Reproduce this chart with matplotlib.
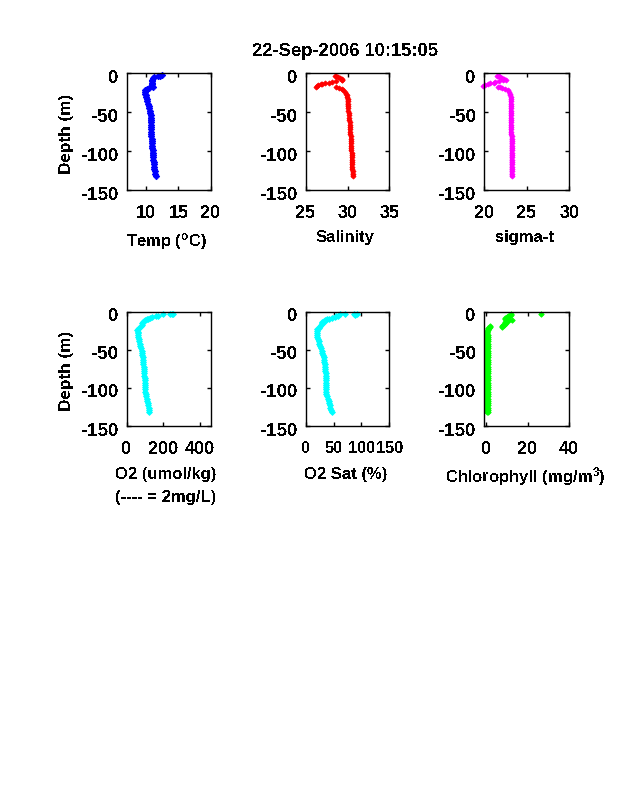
import matplotlib
matplotlib.use("Agg")
import matplotlib.pyplot as plt
from matplotlib.transforms import ScaledTranslation

plt.rcParams.update({
    'font.family': ['Liberation Sans', 'DejaVu Sans'],
    'font.weight': 'bold',
    'axes.labelweight': 'bold',
    'mathtext.fontset': 'custom',
    'mathtext.bf': 'Liberation Sans:bold',
    'mathtext.rm': 'Liberation Sans:bold',
    'mathtext.default': 'bf',
    'text.antialiased': False,
})

title = '22-Sep-2006 10:15:05'

deep_depth = [-30, -33, -36, -39, -42,
              -45, -48, -51, -54, -57,
              -60, -63, -66, -69, -72,
              -75, -78, -81, -84, -87,
              -90, -93, -96, -99, -102,
              -105, -108, -111, -114, -117,
              -120, -123, -126, -129, -132]

temp_depth = [-2, -3, -4, -5, -6, -8, -10, -12, -14, -16, -18, -19, -20, -21, -22, -24, -26, -28] + deep_depth
temp = [12.5, 12.2, 11.8, 11.3, 11.1, 10.9, 10.9, 10.9, 10.9, 10.9, 11.0, 10.5, 10.1, 10.0, 9.9, 9.9, 9.9, 10.0,
        10.0, 10.1, 10.2, 10.3, 10.4,
        10.5, 10.6, 10.6, 10.7, 10.7,
        10.7, 10.7, 10.8, 10.8, 10.8,
        10.8, 10.8, 10.8, 10.9, 10.9,
        10.9, 10.9, 10.9, 11.0, 11.0,
        11.0, 11.1, 11.1, 11.2, 11.2,
        11.3, 11.3, 11.4, 11.4, 11.5]

sal_depth = [-3, -4, -5, -6, -7, -8, -9, -10, -11, -12, -13, -13.5, -14, -15, -16, -17, -18, -19, -20, -22, -24, -26, -28] + deep_depth
sal = [28.5, 28.6, 28.9, 29.1, 29.3, 29.4, 29.3, 28.6, 28.2, 27.8, 27.3, 27.0, 26.8, 26.5, 26.3, 26.2, 28.6, 29.0, 29.3, 29.5, 29.7, 29.8, 29.9,
       29.9, 30.0, 30.0, 30.0, 30.0,
       30.1, 30.1, 30.2, 30.2, 30.2,
       30.2, 30.3, 30.3, 30.3, 30.3,
       30.3, 30.3, 30.4, 30.4, 30.4,
       30.4, 30.4, 30.4, 30.4, 30.5,
       30.5, 30.5, 30.5, 30.5, 30.5,
       30.5, 30.5, 30.6, 30.6, 30.6]

sigma_depth = [-3, -4, -5, -6, -7, -8, -9, -10, -11, -12, -13, -14, -15, -16, -17, -18, -19, -20, -22, -24, -26, -28] + deep_depth
sigma = [21.5, 21.7, 21.9, 22.1, 22.3, 22.5, 22.2, 21.7, 21.3, 21.1, 20.7, 20.4, 20.1, 19.9, 21.6, 21.8, 22.1, 22.4, 22.8, 22.9, 23.0, 23.0,
         23.1, 23.1, 23.1, 23.1, 23.1,
         23.1, 23.1, 23.1, 23.1, 23.1,
         23.1, 23.1, 23.1, 23.1, 23.1,
         23.1, 23.1, 23.2, 23.2, 23.2,
         23.2, 23.2, 23.2, 23.2, 23.2,
         23.2, 23.2, 23.2, 23.2, 23.2,
         23.2, 23.2, 23.2, 23.2, 23.2]

o2_depth = [-2.5, -3, -3.5, -3.5, -5, -6, -7, -8, -9, -10, -11, -12, -13, -14, -15, -17, -19, -21, -23, -24, -26, -28] + deep_depth
o2 = [248, 238, 252, 200, 172, 158, 140, 127, 118, 108, 100, 95, 90, 88, 85, 82, 76, 68, 62, 58, 60, 60,
      62, 63, 65, 67, 70,
      73, 77, 81, 85, 86,
      87, 88, 90, 91, 92,
      94, 95, 96, 97, 98,
      98, 99, 100, 100, 100,
      101, 103, 105, 108, 112,
      115, 117, 119, 122, 124]

sat_depth = [-3, -3.5, -4, -3, -3.5, -5, -6, -7, -8, -9, -10, -11, -12, -13, -14, -15, -17, -19, -21, -23, -25, -28] + deep_depth
sat = [92, 86, 88, 71, 62, 58, 54, 52, 48, 42, 38, 35, 33, 32, 30, 29, 28, 26, 23, 21, 20, 20,
       21, 21, 22, 23, 24,
       26, 27, 29, 30, 31,
       32, 33, 33, 34, 34,
       35, 35, 36, 36, 36,
       36, 36, 36, 36, 36,
       36, 37, 38, 40, 41,
       42, 43, 44, 45, 47]

chl_depth = [-3.5, -3, -4, -5, -6, -7, -8, -9, -10, -11, -11.5, -12, -13, -14, -15, -16, -17, -18, -19, -20, -20, -19, -21, -22, -23, -24, -25, -26, -27, -28] + deep_depth + deep_depth
chl = [26.2, 12.0, 11.8, 11.2, 10.7, 10.0, 9.2, 9.0, 9.6, 11.0, 12.3, 10.0, 9.4, 9.2, 9.4, 9.2, 8.8, 8.0, 7.8, 7.5, 1.9, 2.0, 1.3, 1.0, 0.9, 0.8, 0.6, 0.6, 0.6, 0.6,
       0.3, 0.3, 0.3, 0.3, 0.3,
       0.3, 0.3, 0.3, 0.3, 0.3,
       0.3, 0.3, 0.3, 0.3, 0.3,
       0.3, 0.3, 0.3, 0.3, 0.3,
       0.3, 0.3, 0.3, 0.3, 0.3,
       0.3, 0.3, 0.3, 0.3, 0.3,
       0.3, 0.3, 0.3, 0.3, 0.3,
       0.9, 0.9, 0.9, 0.9, 0.9,
       0.9, 0.9, 0.9, 0.9, 0.9,
       0.9, 0.9, 0.9, 0.9, 0.9,
       0.9, 0.9, 0.9, 0.9, 0.9,
       0.9, 0.9, 0.9, 0.9, 0.9,
       0.9, 0.9, 0.9, 0.9, 0.9,
       0.9, 0.9, 0.9, 0.9, 0.9]

W, H = 638, 788
panels = [
    dict(x=temp, y=temp_depth, c='#0000ff', box=(126.7, 73.3, 210.7, 190), xlim=(7, 20), xt=[10, 15, 20],
         lab='Temp ($\\mathbf{^{o}}$C)', lx=166, ly=246.5, ms=3.3, yl=True, xfs=13),
    dict(x=sal, y=sal_depth, c='#ff0000', box=(305.7, 73.3, 389.3, 190), xlim=(25, 35), xt=[25, 30, 35],
         lab='Salinity', lx=345, ly=242, ms=2.6, yl=False, xfs=13),
    dict(x=sigma, y=sigma_depth, c='#ff00ff', box=(484.3, 73.3, 569.3, 190), xlim=(20, 30), xt=[20, 25, 30],
         lab='sigma-t', lx=525, ly=242, ms=2.6, yl=False, xfs=13),
    dict(x=o2, y=o2_depth, c='#00ffff', box=(126.7, 311.7, 210.7, 426), xlim=(0, 458), xt=[0, 200, 400],
         lab='O2 (umol/kg)', lx=166, ly=479, ms=3.0, yl=True, xfs=13),
    dict(x=sat, y=sat_depth, c='#00ffff', box=(305.7, 311.7, 389.3, 426), xlim=(0, 150), xt=[0, 50, 100, 150],
         lab='O2 Sat (%)', lx=346, ly=479, ms=3.0, yl=False, xfs=11.8),
    dict(x=chl, y=chl_depth, c='#00ff00', box=(484.3, 311.7, 569.3, 426), xlim=(-0.8, 40), xt=[0, 20, 40],
         lab='Chlorophyll (mg/m$\\mathbf{^{3}}$)', lx=525, ly=482.5, ms=2.8, yl=False, xfs=13),
]

fig = plt.figure(figsize=(W / 100, H / 100), dpi=100, facecolor='white')
for p in panels:
    l, t, r, b = p['box']
    ax = fig.add_axes([l / W, 1 - b / H, (r - l) / W, (b - t) / H])
    ax.plot(p['x'], p['y'], ls='none', marker='D', ms=p['ms'], mfc=p['c'], mec=p['c'], mew=0.6, clip_on=False)
    # the deep part of each cast is so densely sampled that its markers merge into a solid band
    deep_x = [v for v, d in zip(p['x'], p['y']) if d <= -30]
    deep_y = [d for d in p['y'] if d <= -30]
    ax.plot(deep_x, deep_y, color=p['c'], lw=p['ms'] * 0.95, solid_capstyle='round')
    ax.set_xlim(*p['xlim'])
    ax.set_ylim(-150, 0)
    ax.set_xticks(p['xt'])
    ax.set_yticks([-150, -100, -50, 0])
    ax.set_yticklabels(['-150', '-100', '-50', '0'])
    ax.tick_params(direction='in', top=True, right=True, length=3, width=1)
    ax.tick_params(axis='x', pad=11, labelsize=p['xfs'])
    ax.tick_params(axis='y', pad=6, labelsize=13.5)
    shift = ScaledTranslation(0, -3 / 100, fig.dpi_scale_trans)
    for lb in ax.get_yticklabels():
        lb.set_transform(lb.get_transform() + shift)
    for s in ax.spines.values():
        s.set_linewidth(1)
    ax.set_xlabel(p['lab'], fontsize=12, va='baseline', ha='center')
    ax.xaxis.set_label_coords(p['lx'] / W, 1 - p['ly'] / H, transform=fig.transFigure)
    if p['yl']:
        ax.set_ylabel('Depth (m)', fontsize=12.3, va='center', ha='center')
        ax.yaxis.set_label_coords(66 / W, 1 - ((t + b) / 2 + 2) / H, transform=fig.transFigure)

fig.text(166 / W, 1 - 502 / H, '(---- = 2mg/L)', ha='center', va='baseline', fontsize=12)
fig.text(345 / W, 1 - 51 / H, title, ha='center', va='center', fontsize=13.2, fontweight='bold')
fig.savefig('out.png', dpi=100, facecolor='white')
